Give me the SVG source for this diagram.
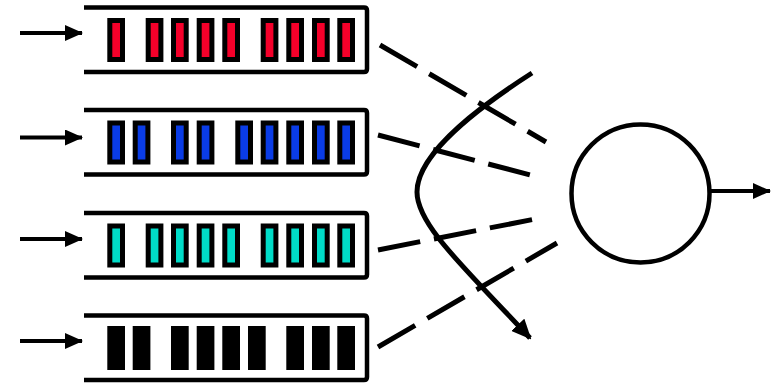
<svg xmlns="http://www.w3.org/2000/svg" width="771" height="383" viewBox="0 0 771 383">
<style>
.box{fill:none;stroke:#000;stroke-width:4.5;stroke-linejoin:round}
.pk{stroke:#000;stroke-width:5}
.red{fill:#f5002a}.blue{fill:#0a3ce6}.teal{fill:#00dcc8}.blk{fill:#000}
.in{stroke:#000;stroke-width:4;fill:none}
.dash{stroke:#000;stroke-width:5;fill:none;stroke-dasharray:43 14}
.curve{stroke:#000;stroke-width:5;fill:none}
</style>
<defs>
<marker id="ah" markerUnits="userSpaceOnUse" markerWidth="18" markerHeight="16" refX="17" refY="8" orient="auto">
<path d="M0,0 L18,8 L0,16 Z" fill="#000"/>
</marker>
<marker id="ah2" markerUnits="userSpaceOnUse" markerWidth="20" markerHeight="18" refX="18" refY="9" orient="auto">
<path d="M0,0 L20,9 L0,18 Z" fill="#000"/>
</marker>
<g id="slots1">
<rect x="109.8" y="20.5" width="12.7" height="39"/>
<rect x="148.2" y="20.5" width="12.7" height="39"/>
<rect x="173.5" y="20.5" width="12.7" height="39"/>
<rect x="199.2" y="20.5" width="12.7" height="39"/>
<rect x="224.8" y="20.5" width="12.7" height="39"/>
<rect x="263.2" y="20.5" width="12.7" height="39"/>
<rect x="288.8" y="20.5" width="12.7" height="39"/>
<rect x="314.5" y="20.5" width="12.7" height="39"/>
<rect x="339.8" y="20.5" width="12.7" height="39"/>
</g>
</defs>

<g id="queue1">
<path class="box" d="M84,7.5 H364 Q367,7.5 367,10.5 V69 Q367,72 364,72 H84"/>
<line class="in" x1="20" y1="33" x2="82" y2="33" marker-end="url(#ah)"/>
<g class="pk red"><use href="#slots1"/></g>
</g>

<g id="queue2" transform="translate(0,102.5)">
<path class="box" d="M84,7.5 H364 Q367,7.5 367,10.5 V69 Q367,72 364,72 H84"/>
<line class="in" x1="20" y1="35" x2="82" y2="35" marker-end="url(#ah)"/>
<g class="pk blue">
<rect x="109.8" y="20.5" width="12.7" height="39"/>
<rect x="135.2" y="20.5" width="12.7" height="39"/>
<rect x="173.5" y="20.5" width="12.7" height="39"/>
<rect x="199.2" y="20.5" width="12.7" height="39"/>
<rect x="237.8" y="20.5" width="12.7" height="39"/>
<rect x="263.2" y="20.5" width="12.7" height="39"/>
<rect x="288.8" y="20.5" width="12.7" height="39"/>
<rect x="314.5" y="20.5" width="12.7" height="39"/>
<rect x="339.8" y="20.5" width="12.7" height="39"/>
</g>
</g>

<g id="queue3" transform="translate(0,205.5)">
<path class="box" d="M84,7.5 H364 Q367,7.5 367,10.5 V69 Q367,72 364,72 H84"/>
<line class="in" x1="20" y1="33.5" x2="82" y2="33.5" marker-end="url(#ah)"/>
<g class="pk teal"><use href="#slots1"/></g>
</g>

<g id="queue4" transform="translate(0,308)">
<path class="box" d="M84,7.5 H364 Q367,7.5 367,10.5 V69 Q367,72 364,72 H84"/>
<line class="in" x1="20" y1="33" x2="82" y2="33" marker-end="url(#ah)"/>
<g class="pk blk">
<rect x="109.8" y="20.5" width="12.7" height="39"/>
<rect x="135.2" y="20.5" width="12.7" height="39"/>
<rect x="173.5" y="20.5" width="12.7" height="39"/>
<rect x="199.2" y="20.5" width="12.7" height="39"/>
<rect x="224.8" y="20.5" width="12.7" height="39"/>
<rect x="250.5" y="20.5" width="12.7" height="39"/>
<rect x="288.8" y="20.5" width="12.7" height="39"/>
<rect x="314.5" y="20.5" width="12.7" height="39"/>
<rect x="339.8" y="20.5" width="12.7" height="39"/>
</g>
</g>

<g id="server">
<circle cx="640.5" cy="193.5" r="69" fill="none" stroke="#000" stroke-width="4.5"/>
</g>

<g id="connectors">
<line class="dash" x1="380" y1="45" x2="546" y2="142"/>
<line class="dash" x1="378" y1="135" x2="534" y2="176"/>
<line class="dash" x1="378" y1="250" x2="535" y2="219"/>
<line class="dash" x1="378" y1="347" x2="557" y2="243"/>
<path class="curve" d="M532,73 C490,100 417,150 417,192 C417,225 465,268 530,338" marker-end="url(#ah2)"/>
<line class="in" x1="711" y1="191" x2="770" y2="191" marker-end="url(#ah)"/>
</g>
</svg>
